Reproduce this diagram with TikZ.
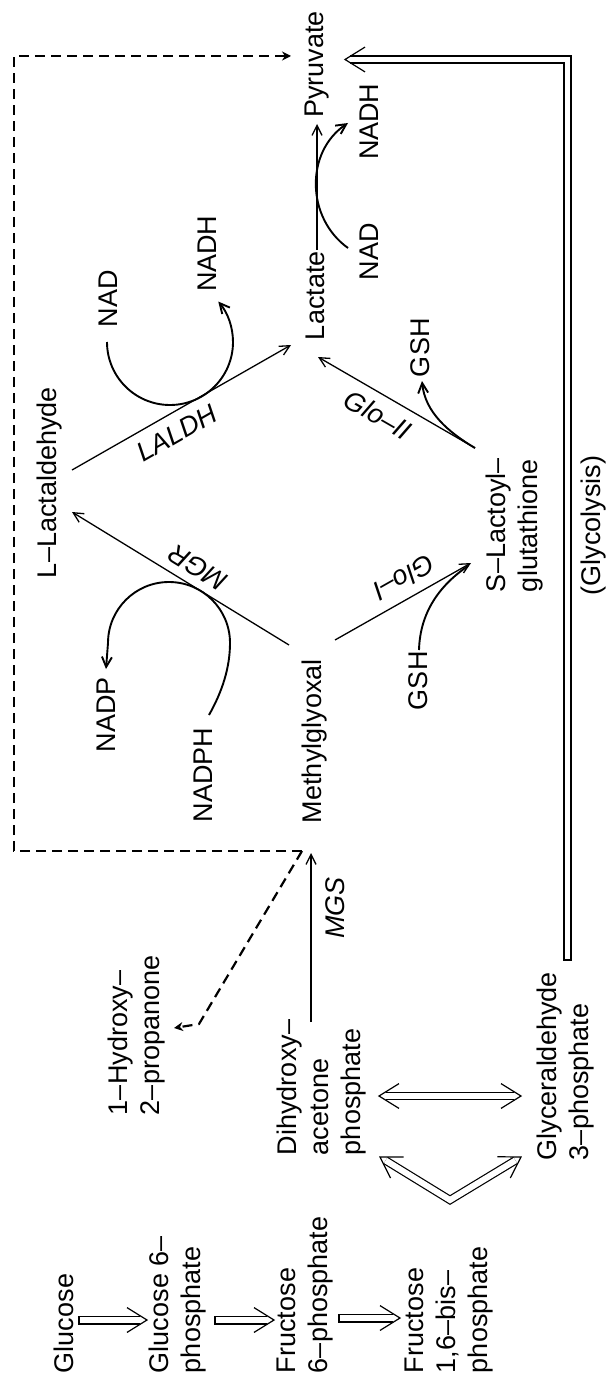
\documentclass[tikz,border=0pt]{standalone}
\usepackage{fontspec}
\setmainfont{Liberation Sans}
\usetikzlibrary{arrows.meta,calc}
\newcommand{\hhead}[2]{\draw[hw] ($(#2)!10pt!(#1)!6.2pt!90:(#1)$) -- (#2) -- ($(#2)!10pt!(#1)!6.2pt!-90:(#1)$);}
\newcommand{\harr}[2]{\draw[hw] ($(#2)!3.3pt!(#1)!1.95pt!90:(#1)$) -- ($(#1)!1.95pt!-90:(#2)$) -- ($(#1)!1.95pt!90:(#2)$) -- ($(#2)!3.3pt!(#1)!1.95pt!-90:(#1)$); \hhead{#1}{#2}}
\begin{document}
\begin{tikzpicture}[x=0.5pt,y=-0.5pt,
  txt/.style={inner sep=0pt,outer sep=0pt,font=\fontsize{13.5}{16}\selectfont},
  lbl/.style={txt,rotate=90,anchor=north west,align=left},
  enz/.style={inner sep=0pt,outer sep=0pt,font=\fontsize{13.5}{16}\selectfont\itshape},
  rx/.style={line width=0.65pt,-{Straight Barb[length=5pt,width=5pt]}},
  cof/.style={line width=0.95pt},
  cofa/.style={cof,-{Straight Barb[length=5pt,width=5pt]}},
  dsh/.style={line width=1.1pt,dash pattern=on 5pt off 3pt,-{Stealth[length=4.5pt,width=4.5pt]}},
  hw/.style={line width=0.6pt,line join=miter},
  hol/.style={double,double distance=3pt,line width=0.6pt,line join=miter}]
\fill[white] (0,0) rectangle (608,1380);
\useasboundingbox (0,0) rectangle (608,1380);

% ---- metabolites ----
\node[lbl] (glc) at (54,1373) {Glucose};
\node[lbl] (g6p) at (149,1373) {Glucose 6–\\phosphate};
\node[lbl] (f6p) at (277,1373) {Fructose\\6–phosphate};
\node[lbl] (fbp) at (405,1373) {Fructose\\1,6–bis–\\phosphate};
\node[lbl] (hyd) at (108,1115) {1–Hydroxy–\\2–propanone};
\node[lbl] (dhap) at (277,1155) {Dihydroxy–\\acetone\\phosphate};
\node[lbl] (g3p) at (537,1160) {Glyceraldehyde\\3–phosphate};
\node[lbl] (mg) at (302,823) {Methylglyoxal};
\node[lbl] (lla) at (37,578) {L–Lactaldehyde};
\node[lbl] (slg) at (486,592) {S–Lactoyl–\\glutathione};
\node[lbl] (lac) at (306,340) {Lactate};
\node[lbl] (pyr) at (305,118) {Pyruvate};
\node[lbl] (nadp) at (97,752) {NADP};
\node[lbl] (nadph) at (194,822) {NADPH};
\node[lbl] (nad1) at (99,327) {NAD};
\node[lbl] (nadh1) at (198,292) {NADH};
\node[lbl] (gsh1) at (409,710) {GSH};
\node[lbl] (gsh2) at (411,377) {GSH};
\node[lbl] (nad2) at (360,280) {NAD};
\node[lbl] (nadh2) at (360,160) {NADH};
\node[lbl] (gly) at (581,595) {(Glycolysis)};

% ---- enzyme labels ----
\node[enz,rotate=90] (mgs) at (335,908) {MGS};
\node[enz,rotate=29.7] (laldh) at (177,433) {LALDH};
\node[enz,rotate=148.5] (mgr) at (198,568) {MGR};
\node[enz,rotate=209.5] (glo1) at (404,578) {Glo–I};
\node[enz,rotate=-30] (glo2) at (378,415) {Glo–II};

% ---- hollow glycolytic arrows ----
\coordinate (a1s) at (79,1320);  \coordinate (a1e) at (147,1320);
\coordinate (a2s) at (215,1320); \coordinate (a2e) at (274,1320);
\coordinate (a3s) at (339,1318); \coordinate (a3e) at (400,1318);
\harr{a1s}{a1e}
\harr{a2s}{a2e}
\harr{a3s}{a3e}
% DHAP <-> G3P
\coordinate (tiL) at (379,1096); \coordinate (tiR) at (521,1096);
\draw[hol] ($(tiL)!3.3pt!(tiR)$) -- ($(tiR)!3.3pt!(tiL)$);
\hhead{tiR}{tiL}
\hhead{tiL}{tiR}
% aldolase V
\coordinate (vL) at (380,1157); \coordinate (vV) at (450,1200); \coordinate (vR) at (521,1157);
\draw[hol] ($(vL)!3.3pt!(vV)$) -- (vV) -- ($(vR)!3.3pt!(vV)$);
\hhead{vV}{vL}
\hhead{vV}{vR}
% glycolysis to pyruvate
\coordinate (glt) at (345,59.5); \coordinate (glb) at (400,59.5);
\draw[hw] (350,56) -- (571,56) -- (571,960) -- (564,960) -- (564,63) -- (350,63);
\hhead{glb}{glt}

% ---- reactions ----
\coordinate (mgs1) at (311,1022); \coordinate (mgs2) at (311,853);
\draw[rx] (mgs1) -- (mgs2);
\coordinate (lal1) at (72,470); \coordinate (lal2) at (291,345);
\draw[rx] (lal1) -- (lal2);
\coordinate (mgr1) at (289,645); \coordinate (mgr2) at (72,512);
\draw[rx] (mgr1) -- (mgr2);
\coordinate (g11) at (335,640); \coordinate (g12) at (471,563);
\draw[rx] (g11) -- (g12);
\coordinate (g21) at (475,448); \coordinate (g22) at (318,357);
\draw[rx] (g21) -- (g22);
\coordinate (ld1) at (317,250); \coordinate (ld2) at (317,124);
\draw[rx] (ld1) -- (ld2);

% ---- cofactor curves ----
\coordinate (c1s) at (348,248); \coordinate (c1e) at (348,123);
\draw[cofa] (c1s) .. controls (306,218) and (305,152) .. (c1e);
\coordinate (c2s) at (107,342);
\draw[cofa] (c2s) arc[start angle=180,end angle=-40,radius=63];
\coordinate (c3s) at (209,715); \coordinate (c3m) at (230,643); \coordinate (c3e) at (106,669);
\draw[cofa] (c3s) .. controls (222,692) and (230,668) .. (c3m) arc[start angle=0,end angle=-180,radius=61] -- (c3e);
\coordinate (c4s) at (419,650); \coordinate (c4e) at (468,566);
\draw[cof] (c4s) .. controls (420,612) and (440,585) .. (c4e);
\coordinate (c5e) at (422,381);
\draw[cofa] (g21) .. controls (448,432) and (425,412) .. (c5e);

% ---- dashed side routes ----
\coordinate (dj) at (302,851); \coordinate (dbl) at (14,851);
\coordinate (dtl) at (14,56); \coordinate (dpy) at (291,56);
\coordinate (dk) at (199,1024); \coordinate (dhy) at (174,1028);
\draw[dsh] (dj) -- (dbl) -- (dtl) -- (dpy);
\draw[dsh] (dj) -- (dk) -- (dhy);
\end{tikzpicture}
\end{document}
